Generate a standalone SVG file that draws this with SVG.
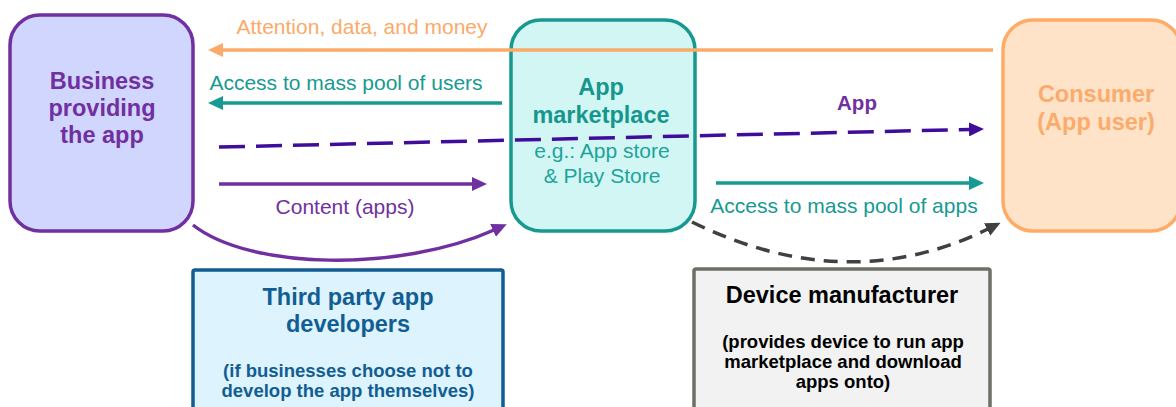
<svg xmlns="http://www.w3.org/2000/svg" width="1176" height="407" viewBox="0 0 1176 407">
  <style>
    text { font-family: "Liberation Sans", Arial, sans-serif; text-anchor: middle; }
    .title { font-size: 23.5px; font-weight: bold; }
    .sub { font-size: 21px; }
    .note { font-size: 18.5px; font-weight: bold; }
    .lbl { font-size: 21px; }
    .line { fill: none; stroke-width: 3.5; }
  </style>
  <defs>
    <marker id="head-orange" viewBox="0 0 15 14" refX="1" refY="7" markerWidth="15" markerHeight="14" markerUnits="userSpaceOnUse" orient="auto">
      <path d="M0,0 L15,7 L0,14 z" fill="#FBAA69"/>
    </marker>
    <marker id="head-teal" viewBox="0 0 15 14" refX="1" refY="7" markerWidth="15" markerHeight="14" markerUnits="userSpaceOnUse" orient="auto">
      <path d="M0,0 L15,7 L0,14 z" fill="#179A92"/>
    </marker>
    <marker id="head-purple" viewBox="0 0 15 14" refX="1" refY="7" markerWidth="15" markerHeight="14" markerUnits="userSpaceOnUse" orient="auto">
      <path d="M0,0 L15,7 L0,14 z" fill="#7030A0"/>
    </marker>
    <marker id="head-violet" viewBox="0 0 15 14" refX="1" refY="7" markerWidth="15" markerHeight="14" markerUnits="userSpaceOnUse" orient="auto">
      <path d="M0,0 L15,7 L0,14 z" fill="#400C9C"/>
    </marker>
    <marker id="head-grey" viewBox="0 0 15 14" refX="1" refY="7" markerWidth="15" markerHeight="14" markerUnits="userSpaceOnUse" orient="auto">
      <path d="M0,0 L15,7 L0,14 z" fill="#404040"/>
    </marker>
  </defs>

  <!-- actors -->
  <g id="business">
    <rect x="10" y="15" width="183" height="216" rx="30" fill="#D0D6FE" stroke="#7030A0" stroke-width="3.5"/>
    <text class="title" x="102" y="89" fill="#7030A0">Business</text>
    <text class="title" x="102" y="116" fill="#7030A0">providing</text>
    <text class="title" x="102" y="143" fill="#7030A0">the app</text>
  </g>

  <g id="marketplace">
    <rect x="511" y="20" width="184" height="211" rx="30" fill="#D1F6F4" stroke="#17998F" stroke-width="3.5"/>
    <text class="title" x="601" y="95" fill="#17968E">App</text>
    <text class="title" x="601" y="123" fill="#17968E">marketplace</text>
    <text class="sub" x="602" y="158" fill="#1FA39A">e.g.: App store</text>
    <text class="sub" x="602" y="183" fill="#1FA39A">&amp; Play Store</text>
  </g>

  <g id="consumer">
    <rect x="1003" y="20" width="178" height="211" rx="30" fill="#FEE3C8" stroke="#FFAB66" stroke-width="3.5"/>
    <text class="title" x="1096" y="102" fill="#FBAB6C">Consumer</text>
    <text class="title" x="1096" y="130" fill="#FBAB6C">(App user)</text>
  </g>

  <g id="third-party">
    <rect x="193" y="270" width="310" height="150" rx="2" fill="#DDF3FD" stroke="#125E92" stroke-width="3.5"/>
    <text class="title" x="348" y="305" fill="#125E92">Third party app</text>
    <text class="title" x="348" y="332" fill="#125E92">developers</text>
    <text class="note" x="348" y="377" fill="#125E92">(if businesses choose not to</text>
    <text class="note" x="348" y="397" fill="#125E92">develop the app themselves)</text>
  </g>

  <g id="device-manufacturer">
    <rect x="694" y="269" width="296" height="150" rx="2" fill="#F2F2F2" stroke="#6F6F68" stroke-width="3.5"/>
    <text class="title" x="842" y="303" fill="#000000">Device manufacturer</text>
    <text class="note" x="843" y="348" fill="#000000">(provides device to run app</text>
    <text class="note" x="843" y="368" fill="#000000">marketplace and download</text>
    <text class="note" x="843" y="388" fill="#000000">apps onto)</text>
  </g>

  <!-- flows between actors -->
  <g id="connectors">
    <path class="line" d="M993,50 L222,50" stroke="#FBAA69" stroke-width="4" marker-end="url(#head-orange)"/>
    <text class="lbl" x="362" y="34" fill="#FBAA69">Attention, data, and money</text>

    <path class="line" d="M502,103 L222,103" stroke="#179A92" marker-end="url(#head-teal)"/>
    <text class="lbl" x="346" y="90" fill="#179A92">Access to mass pool of users</text>

    <path class="line" d="M219,147 L970,129.4" stroke="#400C9C" stroke-width="3.8" stroke-dasharray="26 11" marker-end="url(#head-violet)"/>
    <text x="857" y="110" fill="#7030A0" style="font-size:20.5px;font-weight:bold">App</text>

    <path class="line" d="M219,184 L473,184" stroke="#7030A0" marker-end="url(#head-purple)"/>
    <text class="lbl" x="345" y="214" fill="#7030A0">Content (apps)</text>

    <path class="line" d="M716,183 L970,183" stroke="#179A92" marker-end="url(#head-teal)"/>
    <text class="lbl" x="844" y="213" fill="#179A92">Access to mass pool of apps</text>

    <path class="line" d="M193,225 C250,270 400,272 494,230" stroke="#7030A0" marker-end="url(#head-purple)"/>

    <path class="line" d="M692,222 Q847,298 988,229" stroke="#404040" stroke-width="3.8" stroke-dasharray="14 9" marker-end="url(#head-grey)"/>
  </g>
</svg>
